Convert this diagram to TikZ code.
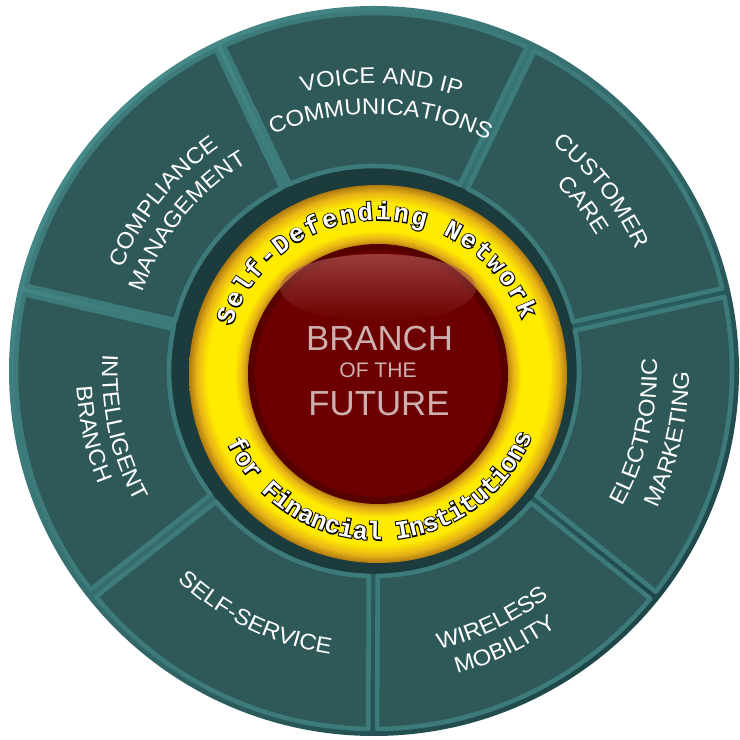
\documentclass[tikz,border=0pt]{standalone}
\usepackage{fontspec}
\setmainfont{Liberation Sans}
\newfontfamily\labelfam[FakeStretch=1.06]{Liberation Sans}
\newfontfamily\ringfam{Liberation Mono Bold}
\newfontfamily\ringedgefam[FakeBold=8]{Liberation Mono Bold}
\usetikzlibrary{decorations.text,fadings}

\definecolor{rimlight}{HTML}{468A8A}
\definecolor{rimdark}{HTML}{1F4749}
\definecolor{segfill}{HTML}{2F5959}
\definecolor{segedge}{HTML}{3D7B7B}
\definecolor{gapdark}{HTML}{1B3B3D}
\definecolor{ringdeep}{HTML}{B07A10}
\definecolor{ringgold}{HTML}{E8B416}
\definecolor{ringyellow}{HTML}{FFEB00}
\definecolor{hubrim}{HTML}{560000}
\definecolor{hubred}{HTML}{6C0000}
\definecolor{hubglow}{HTML}{A85050}
\definecolor{hubtext}{HTML}{CDB1B1}

\pgfdeclareradialshading{yellowring}{\pgfpoint{0bp}{0bp}}{%
  color(0bp)=(ringdeep); color(17bp)=(ringdeep); color(17.9bp)=(ringgold);
  color(19bp)=(ringyellow); color(22.6bp)=(ringyellow); color(24bp)=(ringgold);
  color(25bp)=(ringdeep); color(50bp)=(ringdeep)}

\newcommand\segfont{\labelfam\fontsize{6.4}{7}\selectfont}
\newcommand\ringfont{\fontsize{7.2}{8}\selectfont}
% white letter with a black edge
\newcommand\ringglyph[1]{\leavevmode
  \rlap{\ringedgefam\color{black}#1}{\ringfam\color{white}#1}}

\begin{document}
\begin{tikzpicture}[
    segment/.style={fill=segfill, draw=segedge, line width=1.3pt, line join=round},
    seglabel/.style={decorate, decoration={text along path, text align=center,
        text={|\segfont\color{white}|#1}}},
    ringchar/.style={inner sep=0pt, anchor=base, font=\ringfont},
    hubtext/.style={inner sep=0pt, text=hubtext}
]
\useasboundingbox (-3.74,-3.69) rectangle (3.66,3.71);

% Outer rim and dark gap
\shade[top color=rimlight, bottom color=rimdark, shading angle=45] (0,0) circle (3.65);
\fill[gapdark] (0,0) circle (2.03);

% Seven segments
\foreach \k in {0,...,6} {
    \pgfmathsetmacro{\segA}{115.5-51.4286*\k}
    \pgfmathsetmacro{\segB}{\segA-51.4286}
    \draw[segment] (\segA-1.25:2.05) -- (\segA-0.7:3.58)
        arc[start angle=\segA-0.7, end angle=\segB+0.7, radius=3.58]
        -- (\segB+1.25:2.05)
        arc[start angle=\segB+1.25, end angle=\segA-1.25, radius=2.05] -- cycle;
}

% Segment labels (upper half: read clockwise)
\path[seglabel=COMPLIANCE] (166.93:2.72) arc[start angle=166.93, end angle=115.5, radius=2.72];
\path[seglabel=MANAGEMENT] (166.93:2.44) arc[start angle=166.93, end angle=115.5, radius=2.44];
\path[seglabel={VOICE AND IP}] (114.2:2.875) arc[start angle=114.2, end angle=62.77, radius=2.875];
\path[seglabel=COMMUNICATIONS] (114.2:2.57) arc[start angle=114.2, end angle=62.77, radius=2.57];
\path[seglabel=CUSTOMER] (64.07:2.89) arc[start angle=64.07, end angle=12.64, radius=2.89];
\path[seglabel=CARE] (64.07:2.61) arc[start angle=64.07, end angle=12.64, radius=2.61];
% Segment labels (lower half: read counterclockwise)
\path[seglabel=ELECTRONIC] (-38.79:2.83) arc[start angle=-38.79, end angle=12.64, radius=2.83];
\path[seglabel=MARKETING] (-38.79:3.15) arc[start angle=-38.79, end angle=12.64, radius=3.15];
\path[seglabel=WIRELESS] (-90.21:2.86) arc[start angle=-90.21, end angle=-38.79, radius=2.86];
\path[seglabel=MOBILITY] (-90.21:3.14) arc[start angle=-90.21, end angle=-38.79, radius=3.14];
\path[seglabel=SELF-SERVICE] (-141.64:2.87) arc[start angle=-141.64, end angle=-90.21, radius=2.87];
\path[seglabel=INTELLIGENT] (-193.07:2.72) arc[start angle=-193.07, end angle=-141.64, radius=2.72];
\path[seglabel=BRANCH] (-193.07:2.98) arc[start angle=-193.07, end angle=-141.64, radius=2.98];

% Yellow ring and red hub
\coordinate (hub) at (0.04,-0.03);
\shade[shading=yellowring] (hub) circle (1.89);
\fill[hubrim] (hub) circle (1.30);
\fill[hubred] (hub) circle (1.23);
\fill[hubglow, path fading=south, fill opacity=0.75] ([yshift=8.6mm]hub) ellipse [x radius=0.98, y radius=0.34];

% Ring text
\foreach \ch [count=\i from 0] in {S,e,l,f,-,D,e,f,e,n,d,i,n,g,{},N,e,t,w,o,r,k}
    \node[ringchar, rotate=69-6.45*\i] (top-\i) at ([shift={(159-6.45*\i:1.54)}]hub) {\ringglyph{\ch}};
\foreach \ch [count=\i from 0] in {f,o,r,{},F,i,n,a,n,c,i,a,l,{},I,n,s,t,i,t,u,t,i,o,n,s}
    \node[ringchar, rotate=-62.9+5.14*\i] (bot-\i) at ([shift={(-152.9+5.14*\i:1.66)}]hub) {\ringglyph{\ch}};

% Hub title
\node[hubtext, font=\fontsize{9.9}{11}\selectfont] (branch) at (0.055,0.32) {BRANCH};
\node[hubtext, font=\fontsize{6}{7}\selectfont] (ofthe) at (0.04,0.005) {OF THE};
\node[hubtext, font=\fontsize{9.9}{11}\selectfont] (future) at (0.05,-0.325) {FUTURE};
\end{tikzpicture}
\end{document}
